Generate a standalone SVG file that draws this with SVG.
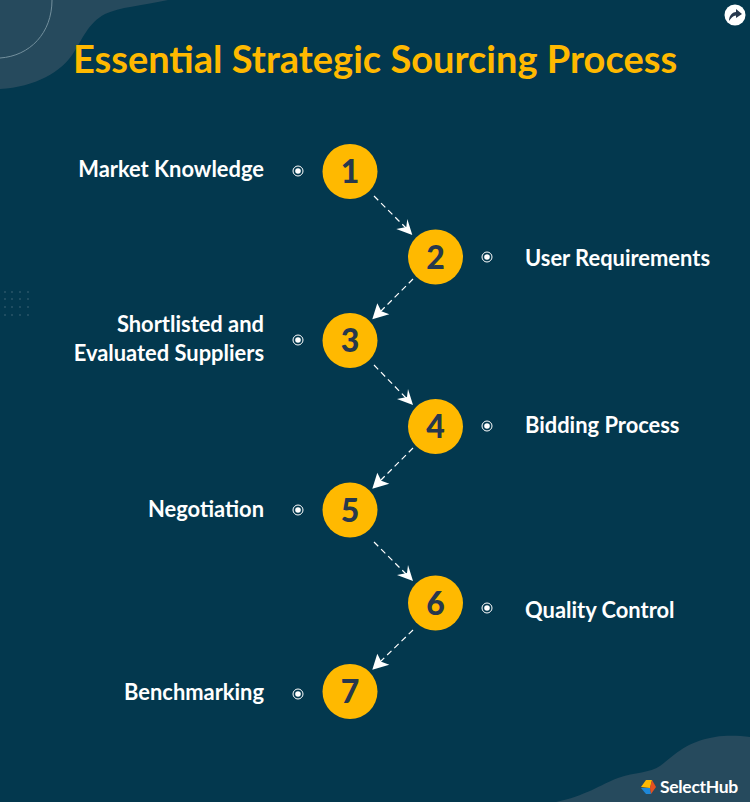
<svg xmlns="http://www.w3.org/2000/svg" width="750" height="802" viewBox="0 0 750 802">
<defs>
<style>
.lbl{font:700 21.900px Lato,"Liberation Sans",sans-serif;fill:#fff}
.num{font:900 32px Lato,"Liberation Sans",sans-serif;fill:#27384d;text-anchor:middle}
.c{fill:#ffb900}
.d{fill:none;stroke:#fff;stroke-width:1.2;stroke-dasharray:6 4}
.h{fill:#fff}
.blob{fill:#264a5d}
.dot{fill:#2a5568}
</style>
<g id="bullet"><circle r="5" fill="none" stroke="#fff" stroke-width="1"/><circle r="2.800" fill="#fff"/></g>
<path id="ar" d="M0 0L-16 -6L-6 -8L-5 -16Z"/>
<path id="al" d="M0 0L5 -16L9 -8L17 -5Z"/>
</defs>
<rect width="750" height="802" fill="#03384e"/>
<g id="background">
<path class="blob" d="M0 0H168C140 6 120 7 105 14C88 23 82 40 74 52C62 72 35 87 0 89Z"/>
<path d="M52 0C52 33 30 56 0 58" fill="none" stroke="#73909d" stroke-width="1"/>
<path class="blob" d="M556 802C585 796 600 785 618 778C635 772 650 773 660 766C675 755 685 742 715 737C728 735 740 736 750 737V802Z"/>
<g class="dot"><circle cx="5" cy="292" r="1"/><circle cx="12" cy="292" r="1"/><circle cx="20" cy="292" r="1"/><circle cx="28" cy="292" r="1"/><circle cx="5" cy="299" r="1"/><circle cx="12" cy="299" r="1"/><circle cx="20" cy="299" r="1"/><circle cx="28" cy="299" r="1"/><circle cx="5" cy="307" r="1"/><circle cx="12" cy="307" r="1"/><circle cx="20" cy="307" r="1"/><circle cx="28" cy="307" r="1"/><circle cx="5" cy="315" r="1"/><circle cx="12" cy="315" r="1"/><circle cx="20" cy="315" r="1"/><circle cx="28" cy="315" r="1"/></g>
</g>
<g id="share"><circle cx="735" cy="15" r="10.500" fill="#fff"/><path d="M729 21C729 15 733 12 736 12V9L742 14L736 18V15.500C733 15.500 731 18 729 21Z" fill="#27384d"/></g>
<text id="title" x="375" y="72.500" text-anchor="middle" style="font:700 38px Lato,'Liberation Sans',sans-serif;fill:#ffb900">Essential Strategic Sourcing Process</text>
<g id="connectors">
<path class="d" d="M374 196L407 229"/><use href="#ar" class="h" transform="translate(412.300 235)"/>
<path class="d" d="M413 279L381 311"/><use href="#al" class="h" transform="translate(372.300 319.300)"/>
<path class="d" d="M374 365L407 399"/><use href="#ar" class="h" transform="translate(413 405)"/>
<path class="d" d="M413 448L381 480"/><use href="#al" class="h" transform="translate(372.300 488.800)"/>
<path class="d" d="M374 542L407 575"/><use href="#ar" class="h" transform="translate(413 581)"/>
<path class="d" d="M413 630L381 661"/><use href="#al" class="h" transform="translate(372.300 669.800)"/>
</g>
<g id="n1"><circle class="c" cx="350" cy="171.500" r="27.500"/><text class="num" x="350" y="183">1</text><use href="#bullet" x="298" y="171"/><text class="lbl" x="264" y="177" text-anchor="end">Market Knowledge</text></g>
<g id="n2"><circle class="c" cx="435.500" cy="257" r="27.500"/><text class="num" x="435.500" y="268.500">2</text><use href="#bullet" x="487" y="257"/><text class="lbl" x="525" y="266">User Requirements</text></g>
<g id="n3"><circle class="c" cx="350" cy="340.500" r="27.500"/><text class="num" x="350" y="352">3</text><use href="#bullet" x="298" y="340"/><text class="lbl" x="264" y="332" text-anchor="end">Shortlisted and</text><text class="lbl" x="264" y="361" text-anchor="end">Evaluated Suppliers</text></g>
<g id="n4"><circle class="c" cx="435.500" cy="426.500" r="27.500"/><text class="num" x="435.500" y="438">4</text><use href="#bullet" x="487" y="426"/><text class="lbl" x="525" y="433">Bidding Process</text></g>
<g id="n5"><circle class="c" cx="350" cy="510" r="27.500"/><text class="num" x="350" y="521.500">5</text><use href="#bullet" x="298" y="510"/><text class="lbl" x="264" y="517" text-anchor="end">Negotiation</text></g>
<g id="n6"><circle class="c" cx="435.500" cy="603" r="27.500"/><text class="num" x="435.500" y="614.500">6</text><use href="#bullet" x="487" y="608"/><text class="lbl" x="525" y="618">Quality Control</text></g>
<g id="n7"><circle class="c" cx="350" cy="691.500" r="27.500"/><text class="num" x="350" y="703">7</text><use href="#bullet" x="298" y="694"/><text class="lbl" x="264" y="700" text-anchor="end">Benchmarking</text></g>
<g id="logo"><path d="M641 787L646 780H652L650 788Z" fill="#ffb900"/><path d="M641 788L650 788L651 794H646Z" fill="#1e88d8"/><path d="M652 780L656 787L651 794L650 788Z" fill="#e5501f"/><text x="660" y="793" style="font:700 17.500px Lato,'Liberation Sans',sans-serif;fill:#fff;letter-spacing:-.3px">SelectHub</text></g>
</svg>
